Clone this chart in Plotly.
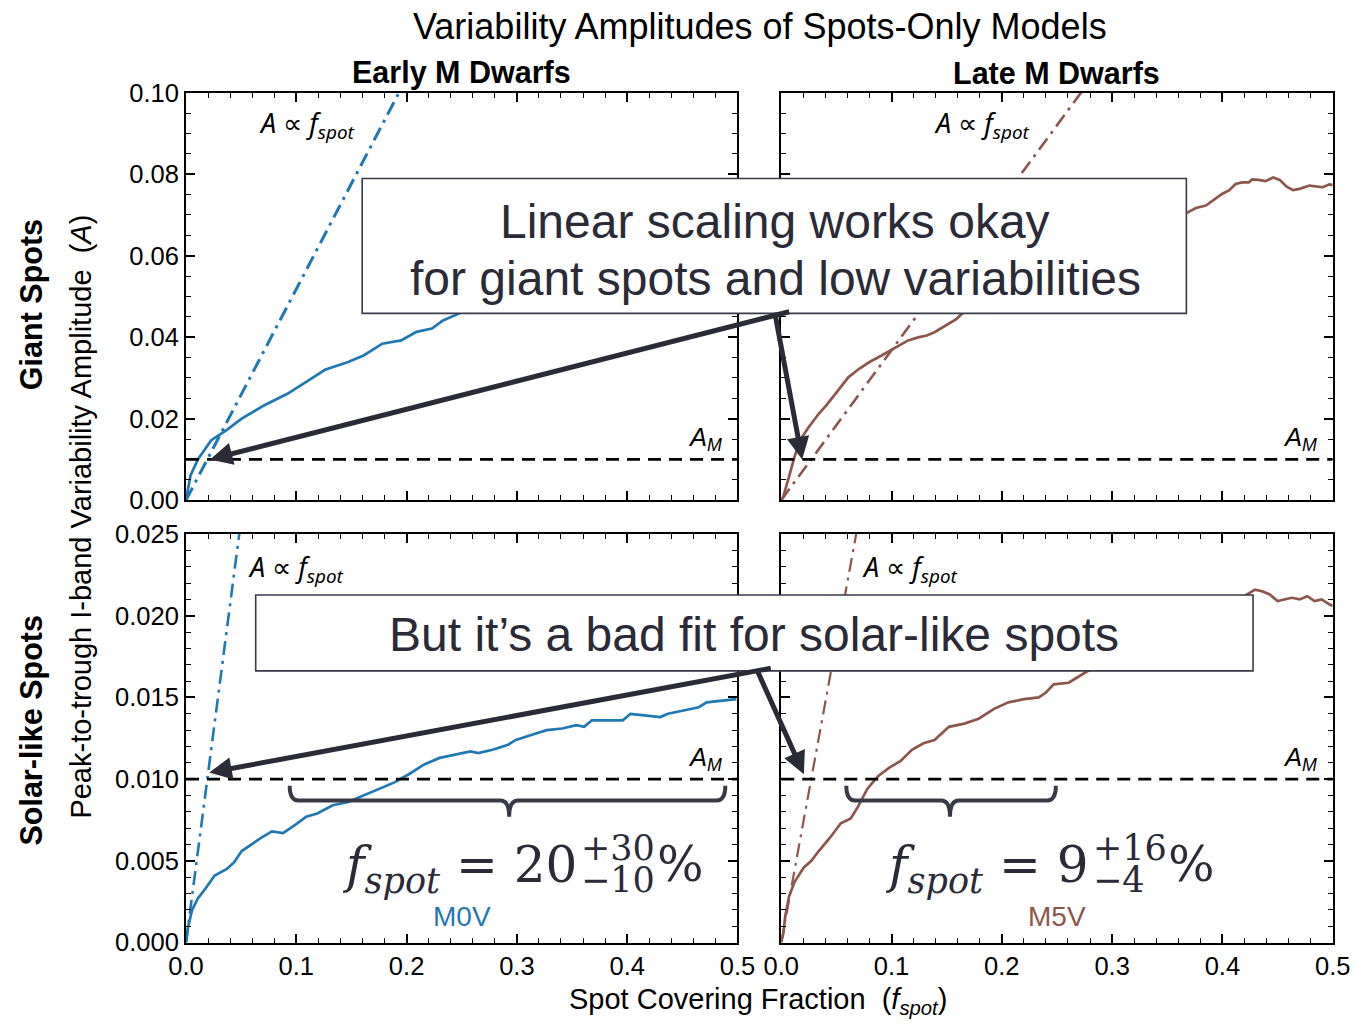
import plotly.graph_objects as go

W, H = 1357, 1024

# ---------------- data ----------------
m0v_giant_f = [0.0, 0.004, 0.0107, 0.0229, 0.0367, 0.0505, 0.0711, 0.0919, 0.109, 0.126,
               0.147, 0.161, 0.178, 0.195, 0.209, 0.223, 0.233, 0.251, 0.28, 0.32,
               0.36, 0.40, 0.45, 0.50]
m0v_giant_A = [0.0, 0.0060, 0.0100, 0.0147, 0.0172, 0.0200, 0.0233, 0.0261, 0.0290, 0.0320,
               0.0339, 0.0355, 0.0384, 0.0392, 0.0413, 0.0421, 0.0441, 0.0462, 0.0500, 0.0540,
               0.0570, 0.0600, 0.0630, 0.0660]
m5v_giant_f = [0.0, 0.002, 0.007, 0.012, 0.017, 0.024, 0.034, 0.041, 0.048, 0.054, 0.061,
               0.071, 0.080, 0.091, 0.102, 0.115, 0.125, 0.132, 0.139, 0.149, 0.159,
               0.164, 0.19, 0.23, 0.27, 0.31, 0.34, 0.369, 0.376, 0.385, 0.391, 0.400,
               0.406, 0.412, 0.418, 0.424, 0.427, 0.433, 0.439, 0.446, 0.452, 0.458,
               0.464, 0.470, 0.479, 0.485, 0.491, 0.497, 0.50]
m5v_giant_A = [0.0, 0.0010, 0.0057, 0.0106, 0.0147, 0.0176, 0.0212, 0.0233, 0.0257, 0.0278, 0.0302,
               0.0323, 0.0339, 0.0355, 0.0372, 0.0392, 0.0400, 0.0404, 0.0412, 0.0429, 0.0445,
               0.0458, 0.0500, 0.0550, 0.0590, 0.0630, 0.0660, 0.0707, 0.0717, 0.0723, 0.0735, 0.0752,
               0.0760, 0.0776, 0.0780, 0.0780, 0.0787, 0.0786, 0.0783, 0.0792, 0.0786, 0.0770,
               0.0761, 0.0764, 0.0772, 0.0770, 0.0768, 0.0775, 0.0773]
m0v_solar_f = [0.0, 0.001, 0.002, 0.0055, 0.0107, 0.0176, 0.026, 0.037, 0.0435, 0.0505, 0.057,
               0.068, 0.078, 0.088, 0.099, 0.109, 0.119, 0.133, 0.147, 0.161, 0.175, 0.189,
               0.202, 0.216, 0.230, 0.244, 0.258, 0.265, 0.278, 0.292, 0.299, 0.313, 0.327,
               0.341, 0.354, 0.361, 0.368, 0.382, 0.396, 0.403, 0.417, 0.430, 0.437, 0.451,
               0.465, 0.472, 0.486, 0.499]
m0v_solar_A = [0.0, 0.0004, 0.0010, 0.0020, 0.0027, 0.0033, 0.0041, 0.0045, 0.0049, 0.0056, 0.0059,
               0.0064, 0.0068, 0.0067, 0.0072, 0.0077, 0.0079, 0.0084, 0.0086, 0.0090, 0.0094, 0.0098,
               0.0103, 0.0109, 0.0113, 0.0115, 0.0117, 0.0116, 0.0118, 0.0121, 0.0124, 0.0127, 0.0130,
               0.0131, 0.0133, 0.0132, 0.0136, 0.0136, 0.0136, 0.0140, 0.0139, 0.0138, 0.0140, 0.0142,
               0.0144, 0.0147, 0.0148, 0.0149]
m5v_solar_f = [0.0, 0.002, 0.0036, 0.007, 0.012, 0.0205, 0.0273, 0.034, 0.044, 0.054, 0.063,
               0.0695, 0.078, 0.088, 0.098, 0.108, 0.1185, 0.129, 0.139, 0.152, 0.166, 0.179,
               0.193, 0.206, 0.220, 0.2335, 0.240, 0.247, 0.2606, 0.271, 0.2775, 0.30, 0.33,
               0.36, 0.39, 0.41, 0.4295, 0.436, 0.443, 0.450, 0.4566, 0.463, 0.470, 0.477,
               0.4836, 0.490, 0.497, 0.50]
m5v_solar_A = [0.0, 0.0006, 0.0016, 0.0028, 0.0037, 0.0046, 0.0050, 0.0056, 0.0064, 0.0073, 0.0076,
               0.0083, 0.0094, 0.0102, 0.0107, 0.0111, 0.0118, 0.0122, 0.0124, 0.0132, 0.0134, 0.0137,
               0.0143, 0.0147, 0.0149, 0.0150, 0.0153, 0.0158, 0.0159, 0.0163, 0.0166, 0.0172, 0.0181,
               0.0192, 0.0201, 0.0208, 0.0216, 0.0215, 0.0213, 0.0209, 0.0210, 0.0211, 0.0210, 0.0212,
               0.0209, 0.0210, 0.0207, 0.0206]

m0v_lin_f = [0.0, 0.25]
m0v_lin_A = [0.0, 0.1295]
m5v_lin_f = [0.0, 0.30]
m5v_lin_A = [0.0, 0.1104]

A_M = 0.01
am_f = [0.0, 0.5]

brace_lo = [0.094, 0.059]
brace_mid = [0.293, 0.153]
brace_hi = [0.489, 0.249]

arrow_tips_f = [0.0217, 0.0190, 0.0211, 0.0205]
arrow_tips_A = [0.0100, 0.0100, 0.0104, 0.0103]

x_ticks = [0.0, 0.1, 0.2, 0.3, 0.4, 0.5]
y_top_ticks = [0.00, 0.02, 0.04, 0.06, 0.08, 0.10]
y_bot_ticks = [0.000, 0.005, 0.010, 0.015, 0.020, 0.025]

BLUE = '#1f77b4'
BROWN = '#8c564b'
DARK = '#2b2b38'

# photographed picture = offset + scale * page  (compensate so targets land in place)
OX, OY = 14.2, 13.2
SX, SY = 0.978, 0.974

def lx(x):
    return (x - OX) / SX

def ly(y):
    return (y - OY) / SY

def px(x):
    return lx(x) / W

def py(y):
    return 1 - ly(y) / H

xdom_l = [px(183), px(737)]
xdom_r = [px(781), px(1335)]
ydom_t = [py(500), py(92)]
ydom_b = [py(943), py(534)]

fig = go.Figure()

def add_line(f, a, color, xa, ya, width=2.6, dash='solid'):
    fig.add_trace(go.Scatter(x=f, y=a, mode='lines', xaxis=xa, yaxis=ya,
                             line=dict(color=color, width=width, dash=dash),
                             showlegend=False, hoverinfo='skip'))

DASHDOT = '14px,6px,3px,6px'
AMDASH = '13px,8px'

panels = [
    ('x', 'y', m0v_giant_f, m0v_giant_A, m0v_lin_f, m0v_lin_A, BLUE, 3.0),
    ('x2', 'y2', m5v_giant_f, m5v_giant_A, m5v_lin_f, m5v_lin_A, BROWN, 2.6),
    ('x3', 'y3', m0v_solar_f, m0v_solar_A, m0v_lin_f, m0v_lin_A, BLUE, 2.6),
    ('x4', 'y4', m5v_solar_f, m5v_solar_A, m5v_lin_f, m5v_lin_A, BROWN, 2.2),
]
for xa, ya, f, a, lf, la, col, lw in panels:
    add_line(lf, la, col, xa, ya, width=lw, dash=DASHDOT)
    add_line(f, a, col, xa, ya, width=2.7)
    add_line(am_f, [A_M, A_M], 'black', xa, ya, width=2.9, dash=AMDASH)

tickfont = dict(family='Liberation Sans, Arial', size=25.5, color='black')

def axis(domain, anchor, rng, minor_dtick, show_labels, fmt, tickvals):
    return dict(domain=domain, anchor=anchor, range=rng, showline=True, linecolor='black',
                linewidth=2, mirror='ticks', ticks='inside', ticklen=9, tickwidth=1.6,
                tickcolor='black', showgrid=False, zeroline=False, tickmode='array',
                tickvals=tickvals, tickformat=fmt, showticklabels=show_labels,
                tickfont=tickfont,
                minor=dict(ticks='inside', ticklen=5, tickwidth=1.3, tickcolor='black',
                           dtick=minor_dtick, showgrid=False))

fig.update_layout(
    width=W, height=H, margin=dict(l=0, r=0, t=0, b=0),
    paper_bgcolor='white', plot_bgcolor='white', showlegend=False,
    xaxis=axis(xdom_l, 'y', [0, 0.5], 0.02, False, '.1f', x_ticks),
    yaxis=axis(ydom_t, 'x', [0, 0.1], 0.005, True, '.2f', y_top_ticks),
    xaxis2=axis(xdom_r, 'y2', [0, 0.5], 0.02, False, '.1f', x_ticks),
    yaxis2=axis(ydom_t, 'x2', [0, 0.1], 0.005, False, '.2f', y_top_ticks),
    xaxis3=axis(xdom_l, 'y3', [0, 0.5], 0.02, True, '.1f', x_ticks),
    yaxis3=axis(ydom_b, 'x3', [0, 0.025], 0.001, True, '.3f', y_bot_ticks),
    xaxis4=axis(xdom_r, 'y4', [0, 0.5], 0.02, True, '.1f', x_ticks),
    yaxis4=axis(ydom_b, 'x4', [0, 0.025], 0.001, False, '.3f', y_bot_ticks),
)

shapes = []
shapes.append(dict(type='rect', xref='paper', yref='paper', x0=px(360), x1=px(1188),
                   y0=py(313), y1=py(178), fillcolor='white',
                   line=dict(color='#3b3b48', width=1.6), layer='above'))
shapes.append(dict(type='rect', xref='paper', yref='paper', x0=px(253), x1=px(1255),
                   y0=py(671), y1=py(595), fillcolor='white',
                   line=dict(color='#3b3b48', width=1.6), layer='above'))
ytop, ymid, ybot = 0.0096, 0.0087, 0.0077
dx = 0.008
for (xr, yr), x0, xc, x1 in zip([('x3', 'y3'), ('x4', 'y4')], brace_lo, brace_mid, brace_hi):
    path = (f"M {x0},{ytop} Q {x0},{ymid} {x0+dx},{ymid} L {xc-dx},{ymid} "
            f"Q {xc},{ymid} {xc},{ybot} Q {xc},{ymid} {xc+dx},{ymid} L {x1-dx},{ymid} "
            f"Q {x1},{ymid} {x1},{ytop}")
    shapes.append(dict(type='path', xref=xr, yref=yr, path=path,
                       line=dict(color='#3a3a46', width=4), layer='above'))
fig.update_layout(shapes=shapes)

ann = []
def text(x, y, t, size, color='black', family='Liberation Sans, Arial', xanchor='center',
         yanchor='middle', angle=0):
    ann.append(dict(x=px(x), y=py(y), xref='paper', yref='paper', text=t, showarrow=False,
                    xanchor=xanchor, yanchor=yanchor, textangle=angle,
                    font=dict(family=family, size=size, color=color)))

text(760, 26, 'Variability Amplitudes of Spots-Only Models', 36)
text(460, 72, '<b>Early M Dwarfs</b>', 30.5)
text(1058, 72, '<b>Late M Dwarfs</b>', 30.5)
text(28, 304, '<b>Giant Spots</b>', 30.5, angle=-90)
text(28, 730, '<b>Solar-like Spots</b>', 30.5, angle=-90)
text(78, 517, 'Peak-to-trough I-band Variability Amplitude  (<i>A</i>)', 29, angle=-90)
text(758, 1002, 'Spot Covering Fraction  (<i>f</i><sub><i>spot</i></sub>)', 29)

prop = '<i>A</i> ∝ <i>f</i><sub><i>spot</i></sub>'
pf = 'Noto Sans, Open Sans'
text(254, 124, prop, 27, family=pf, xanchor='left')
text(932, 124, prop, 27, family=pf, xanchor='left')
text(243, 568, prop, 27, family=pf, xanchor='left')
text(860, 568, prop, 27, family=pf, xanchor='left')

am = '<i>A</i><sub><i>M</i></sub>'
text(723, 439, am, 25.5, xanchor='right')
text(1321, 439, am, 25.5, xanchor='right')
text(723, 759, am, 25.5, xanchor='right')
text(1321, 759, am, 25.5, xanchor='right')

bf = 'Liberation Sans, Arial'
text(775, 221, 'Linear scaling works okay', 48, color=DARK, family=bf)
text(775, 278, 'for giant spots and low variabilities', 48, color=DARK, family=bf)
text(754, 635, 'But it’s a bad fit for solar-like spots', 48, color=DARK, family=bf)

sf = 'DejaVu Serif, Liberation Serif'
text(578, 869, '<i>f</i><sub><i>spot</i></sub> = 20', 50, color=DARK, family=sf, xanchor='right')
text(578, 848, '+30', 35, color=DARK, family=sf, xanchor='left')
text(578, 880, '−10', 35, color=DARK, family=sf, xanchor='left')
text(654, 865, '%', 49, color=DARK, family=sf, xanchor='left')

text(1092, 869, '<i>f</i><sub><i>spot</i></sub> = 9', 50, color=DARK, family=sf, xanchor='right')
text(1092, 848, '+16', 35, color=DARK, family=sf, xanchor='left')
text(1092, 880, '−4', 35, color=DARK, family=sf, xanchor='left')
text(1168, 865, '%', 49, color=DARK, family=sf, xanchor='left')

text(460, 917, 'M0V', 28, color=BLUE)
text(1058, 917, 'M5V', 28, color=BROWN)

# arrows: tips in data coords, tails at box edges (picture px -> page px offsets)
tails = [(775, 315), (775, 315), (757, 671), (757, 671)]
axes_refs = [('x', 'y'), ('x2', 'y2'), ('x3', 'y3'), ('x4', 'y4')]
origins = [(183, 500, 1108, 4080), (781, 500, 1108, 4080),
           (183, 943, 1108, 16360), (781, 943, 1108, 16360)]
for (xr, yr), ftip, atip, (tx, ty), (x0p, y0p, per_f, per_a) in zip(
        axes_refs, arrow_tips_f, arrow_tips_A, tails, origins):
    tip_x = x0p + ftip * per_f
    tip_y = y0p - atip * per_a
    ann.append(dict(x=ftip, y=atip, xref=xr, yref=yr, text='', showarrow=True,
                    ax=(tx - tip_x) / SX, ay=(ty - tip_y) / SY, axref='pixel', ayref='pixel',
                    arrowhead=2, arrowsize=0.9, arrowwidth=5, arrowcolor=DARK, standoff=0))

fig.update_layout(annotations=ann)

fig.write_html('out.html',
               post_script="document.body.style.margin='0px';"
                           "document.body.style.overflow='hidden';"
                           "document.documentElement.style.overflow='hidden';")
